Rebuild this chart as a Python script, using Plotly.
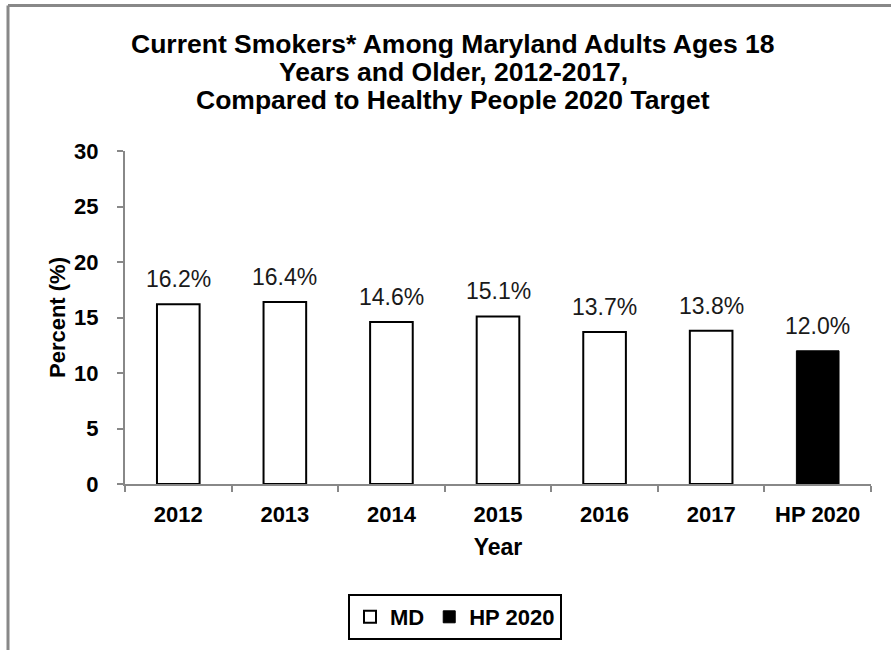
import plotly.graph_objects as go

md_years = ["2012", "2013", "2014", "2015", "2016", "2017"]
md_values = [16.2, 16.4, 14.6, 15.1, 13.7, 13.8]
hp_category = ["HP 2020"]
hp_values = [12.0]
y_ticks = [0, 5, 10, 15, 20, 25, 30]
title_lines = [
    "Current Smokers* Among Maryland Adults Ages 18",
    "Years and Older, 2012-2017,",
    "Compared to Healthy People 2020 Target",
]

FONT = "Liberation Sans, Arial, sans-serif"
categories = md_years + hp_category

fig = go.Figure()
fig.add_trace(go.Bar(
    x=md_years, y=md_values, name="MD", width=0.4,
    marker=dict(color="white", line=dict(color="black", width=2)),
))
fig.add_trace(go.Bar(
    x=hp_category, y=hp_values, name="HP 2020", width=0.4,
    marker=dict(color="black", line=dict(color="black", width=1)),
))

W, H = 891, 650
L, R, T, B = 125, 20, 151, 165
pw, ph = W - L - R, H - T - B

annotations = []
for cat, v in zip(categories, md_values + hp_values):
    annotations.append(dict(
        x=categories.index(cat), y=v, xref="x", yref="y", text=f"{v:.1f}%", showarrow=False,
        yanchor="bottom", yshift=10,
        font=dict(family=FONT, size=23, color="#1a1a1a"),
    ))
for line, yc in zip(title_lines, [44, 72, 100]):
    annotations.append(dict(
        x=(453 - L) / pw, xref="paper", xanchor="center",
        y=1 + (T - yc) / ph, yref="paper", yanchor="middle",
        text=f"<b>{line}</b>", showarrow=False,
        font=dict(family=FONT, size=26.5, color="black"),
    ))

fig.update_layout(
    width=W, height=H,
    margin=dict(l=L, r=R, t=T, b=B),
    paper_bgcolor="white", plot_bgcolor="white",
    barmode="overlay",
    font=dict(family=FONT, color="black"),
    showlegend=True,
    legend=dict(
        orientation="h", x=(455 - L) / pw, xanchor="center",
        y=-(617 - (H - B)) / ph, yanchor="middle",
        bordercolor="black", borderwidth=2,
        font=dict(family=FONT, size=22, color="black", weight="bold"),
        traceorder="normal", itemwidth=30,
    ),
    xaxis=dict(
        type="category",
        categoryorder="array", categoryarray=categories,
        showline=True, linecolor="#888", linewidth=2,
        ticks="outside", tickson="boundaries", ticklen=6, tickcolor="#888", tickwidth=2,
        tickfont=dict(family=FONT, size=22, color="black", weight="bold"),
        tickangle=0, ticklabelstandoff=10,
        title=dict(text="<b>Year</b>", font=dict(family=FONT, size=23), standoff=12),
    ),
    yaxis=dict(
        range=[0, 30], tickvals=y_ticks,
        showline=True, linecolor="#888", linewidth=2,
        ticks="outside", ticklen=6, tickcolor="#888", tickwidth=2,
        showgrid=False, zeroline=False,
        tickfont=dict(family=FONT, size=22, color="black", weight="bold"),
        ticklabelstandoff=14,
        title=dict(text="<b>Percent (%)</b>", font=dict(family=FONT, size=22), standoff=2),
    ),
    annotations=annotations,
    shapes=[
        dict(type="line", xref="paper", yref="paper",
             x0=(8 - L) / pw, x1=(W + 5 - L) / pw, y0=1 + (T - 5) / ph, y1=1 + (T - 5) / ph,
             line=dict(color="#888", width=3)),
        dict(type="line", xref="paper", yref="paper",
             x0=(8 - L) / pw, x1=(8 - L) / pw, y0=1 + (T - 5) / ph, y1=-(B + 10) / ph,
             line=dict(color="#888", width=3)),
    ],
)

fig.write_html("out.html", config={"displayModeBar": False},
               post_script="document.body.style.margin='0px';")
